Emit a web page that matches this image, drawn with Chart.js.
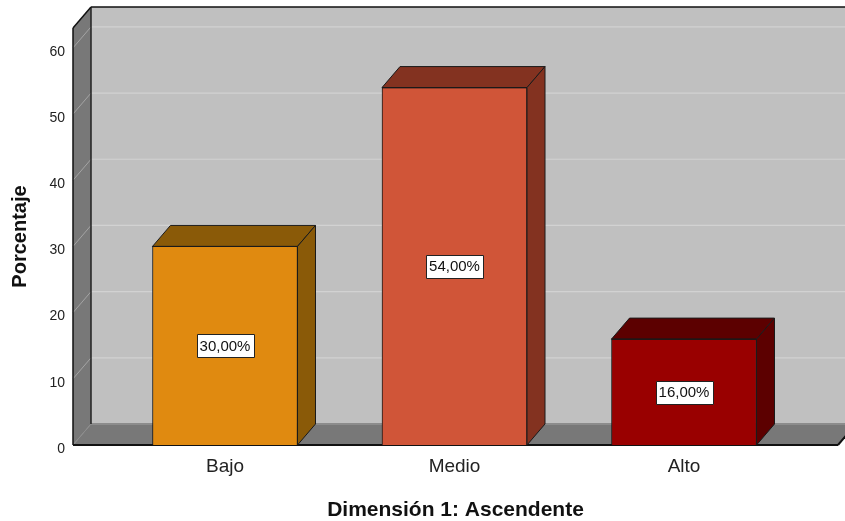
<!DOCTYPE html>
<html>
<head>
<meta charset="utf-8">
<script src="https://cdn.jsdelivr.net/npm/chart.js@4/dist/chart.umd.min.js"></script>
<style>
  html, body { margin: 0; padding: 0; background: #fff; }
  canvas { display: block; }
</style>
</head>
<body>
<canvas id="chart" width="845" height="521"></canvas>
<script>
const categories = ['Bajo', 'Medio', 'Alto'];
const percentages = [30, 54, 16];
const yTicks = [0, 10, 20, 30, 40, 50, 60];

const frontColors = ['#e08a10', '#d05538', '#990000'];
const shadeColors = ['#8a5a08', '#833220', '#5c0000'];

// offset of the back plane (pseudo 3D depth)
const DX = 18, DY = 21;

function poly(ctx, pts, fill, stroke, lw) {
    ctx.beginPath();
    ctx.moveTo(pts[0][0], pts[0][1]);
    for (let i = 1; i < pts.length; i++) ctx.lineTo(pts[i][0], pts[i][1]);
    ctx.closePath();
    if (fill) { ctx.fillStyle = fill; ctx.fill(); }
    if (stroke) { ctx.strokeStyle = stroke; ctx.lineWidth = lw || 1; ctx.stroke(); }
}

function line(ctx, x1, y1, x2, y2, color, lw) {
    ctx.beginPath();
    ctx.moveTo(x1, y1);
    ctx.lineTo(x2, y2);
    ctx.strokeStyle = color;
    ctx.lineWidth = lw;
    ctx.stroke();
}

const box3d = {
    id: 'box3d',
    beforeDatasetsDraw(chart) {
        const { ctx, chartArea: a, scales: { y } } = chart;
        const farRight = chart.width + DX + 10;
        ctx.save();

        // back wall, left wall, floor
        ctx.fillStyle = '#c0c0c0';
        ctx.fillRect(a.left + DX, a.top - DY, farRight, a.bottom - a.top);
        poly(ctx, [[a.left, a.top], [a.left + DX, a.top - DY], [a.left + DX, a.bottom - DY], [a.left, a.bottom]], '#787878');
        poly(ctx, [[a.left, a.bottom], [a.left + DX, a.bottom - DY], [a.right + DX, a.bottom - DY], [a.right, a.bottom]], '#787878');

        // grid lines on the walls
        yTicks.forEach(v => {
            if (v === 0) return;
            const py = y.getPixelForValue(v);
            line(ctx, a.left, py, a.left + DX, py - DY, '#a4a4a4', 1);
            line(ctx, a.left + DX, py - DY, farRight, py - DY, '#d2d2d2', 1.2);
        });

        // wall joints
        line(ctx, a.left + DX, a.bottom - DY, farRight, a.bottom - DY, '#8c8c8c', 2);
        line(ctx, a.left, a.bottom, a.left + DX, a.bottom - DY, '#8c8c8c', 1);

        // outer edges
        line(ctx, a.left + DX, a.top - DY, farRight, a.top - DY, '#111', 1.5);
        line(ctx, a.left + DX, a.top - DY, a.left + DX, a.bottom - DY, '#222', 1.5);
        line(ctx, a.left, a.top, a.left + DX, a.top - DY, '#111', 1.5);
        line(ctx, a.left, a.top, a.left, a.bottom, '#111', 1.5);
        line(ctx, a.left, a.bottom, a.right, a.bottom, '#111', 2);
        line(ctx, a.right, a.bottom, a.right + DX, a.bottom - DY, '#111', 2);
        ctx.restore();
    },
    afterDatasetsDraw(chart) {
        const { ctx } = chart;
        const bars = chart.getDatasetMeta(0).data;
        ctx.save();
        bars.forEach((bar, i) => {
            const x0 = bar.x - bar.width / 2, x1 = bar.x + bar.width / 2;
            const yt = bar.y, yb = bar.base;
            ctx.lineJoin = 'round';
            poly(ctx, [[x0, yt], [x0 + DX, yt - DY], [x1 + DX, yt - DY], [x1, yt]], shadeColors[i], '#1a1a1a', 1);
            poly(ctx, [[x1, yt], [x1 + DX, yt - DY], [x1 + DX, yb - DY], [x1, yb]], shadeColors[i], '#1a1a1a', 1);
            line(ctx, x0, yt, x1, yt, '#1a1a1a', 1);

            // value label in the middle of the front face
            const text = percentages[i].toFixed(2).replace('.', ',') + '%';
            ctx.font = '15px "Liberation Sans", Arial, sans-serif';
            const w = ctx.measureText(text).width + 6, h = 23;
            const cy = (yt + yb) / 2;
            ctx.fillStyle = '#fff';
            ctx.fillRect(Math.round(bar.x - w / 2) + 0.5, Math.round(cy - h / 2) + 0.5, Math.round(w), h);
            ctx.strokeStyle = '#222';
            ctx.lineWidth = 1;
            ctx.strokeRect(Math.round(bar.x - w / 2) + 0.5, Math.round(cy - h / 2) + 0.5, Math.round(w), h);
            ctx.fillStyle = '#111';
            ctx.textAlign = 'center';
            ctx.textBaseline = 'middle';
            ctx.fillText(text, bar.x, cy + 1);
        });
        ctx.restore();
    }
};

Chart.defaults.font.family = '"Liberation Sans", Arial, sans-serif';

new Chart(document.getElementById('chart'), {
    type: 'bar',
    data: {
        datasets: [{
            data: percentages.map((v, i) => ({ x: i, y: v })),
            backgroundColor: frontColors,
            borderColor: '#1a1a1a',
            borderWidth: 1,
            barThickness: 145
        }]
    },
    options: {
        responsive: false,
        animation: false,
        layout: { padding: { top: 28, right: 7, left: 0, bottom: 0 } },
        plugins: {
            legend: { display: false },
            tooltip: { enabled: false }
        },
        scales: {
            x: {
                type: 'linear',
                offset: false,
                min: -0.6623,
                max: 2.671,
                afterBuildTicks: s => { s.ticks = categories.map((c, i) => ({ value: i })); },
                afterFit: s => { s.height = 76; },
                grid: { display: false, drawTicks: false },
                border: { display: false },
                ticks: {
                    callback: v => categories[v],
                    font: { size: 19 },
                    color: '#222',
                    padding: 10,
                    maxRotation: 0,
                    autoSkip: false
                },
                title: {
                    display: true,
                    text: 'Dimensión 1: Ascendente',
                    font: { size: 21, weight: 'bold', lineHeight: 1 },
                    color: '#111',
                    padding: { top: 0, bottom: 0.5 }
                }
            },
            y: {
                min: 0,
                max: 63,
                afterBuildTicks: s => { s.ticks = yTicks.map(v => ({ value: v })); },
                afterFit: s => { s.width = 73; },
                grid: { display: false, drawTicks: false },
                border: { display: false },
                ticks: {
                    font: { size: 14 },
                    color: '#222',
                    padding: 8,
                    labelOffset: 4
                },
                title: {
                    display: true,
                    text: 'Porcentaje',
                    font: { size: 20, weight: 'bold', lineHeight: 1 },
                    color: '#111',
                    padding: { top: 10, bottom: 0 }
                }
            }
        }
    },
    plugins: [box3d]
});
</script>
</body>
</html>
